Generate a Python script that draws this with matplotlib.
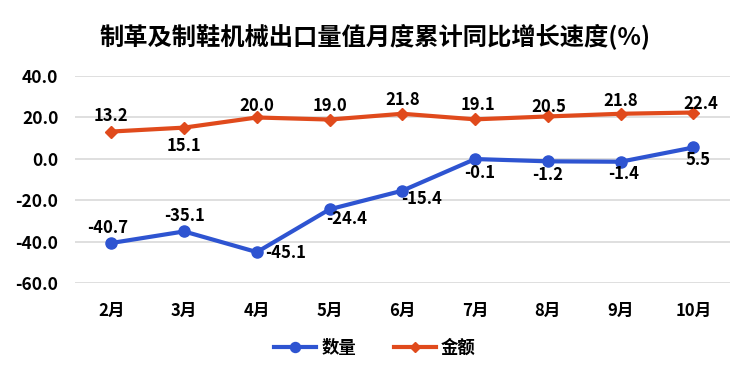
import matplotlib.pyplot as plt

plt.rcParams['font.family'] = ['Noto Sans CJK SC', 'DejaVu Sans']

months = ['2月', '3月', '4月', '5月', '6月', '7月', '8月', '9月', '10月']
quantity = [-40.7, -35.1, -45.1, -24.4, -15.4, -0.1, -1.2, -1.4, 5.5]
amount = [13.2, 15.1, 20.0, 19.0, 21.8, 19.1, 20.5, 21.8, 22.4]
yticks = [40, 20, 0, -20, -40, -60]

# label offsets in points (dx, dy)
qty_off = [(-3, 11), (0, 11), (21, -1), (12, -7), (14, -6), (3, -10), (0, -10), (2, -9), (3, -9)]
amt_off = [(0, 11), (0, -13), (0, 8), (0, 10), (0, 10), (2, 10), (1, 7), (0, 9), (5, 6)]

blue = '#2e54d1'
orange = '#e04a1c'

fig = plt.figure(figsize=(7.5, 3.66), dpi=100)
ax = fig.add_axes([0.1, 0.227, 0.873, 0.565])

x = range(len(months))
ax.plot(x, quantity, color=blue, lw=3, marker='o', ms=8, label='数量', zorder=3)
ax.plot(x, amount, color=orange, lw=3, marker='D', ms=6, label='金额', zorder=3)

for i, v in enumerate(quantity):
    ax.annotate(f'{v:.1f}', (i, v), xytext=qty_off[i], textcoords='offset points',
                ha='center', va='center', fontsize=12, fontweight='bold')
for i, v in enumerate(amount):
    ax.annotate(f'{v:.1f}', (i, v), xytext=amt_off[i], textcoords='offset points',
                ha='center', va='center', fontsize=12, fontweight='bold')

ax.set_xlim(-0.5, len(months) - 0.5)
ax.set_ylim(-60, 40)
ax.set_yticks(yticks)
ax.set_yticklabels([f'{t:.1f}' for t in yticks], fontsize=12.5, fontweight='bold')
ax.set_xticks(list(x))
ax.set_xticklabels(months, fontsize=12, fontweight='bold')
ax.tick_params(axis='y', length=0, pad=12)
ax.tick_params(axis='x', length=0, pad=14)
ax.grid(axis='y', color='#d9d9d9', lw=1.2)
ax.set_axisbelow(True)
for s in ax.spines.values():
    s.set_visible(False)

fig.suptitle('制革及制鞋机械出口量值月度累计同比增长速度(%)', fontsize=17.5, fontweight='bold', y=0.935)
fig.legend(loc='center', bbox_to_anchor=(0.5, 0.05), ncol=2, frameon=False,
           prop={'size': 12.5, 'weight': 'bold'}, handlelength=2.4, handletextpad=0.3,
           columnspacing=2.2, markerscale=0.9)

fig.savefig('out.png', dpi=100)
